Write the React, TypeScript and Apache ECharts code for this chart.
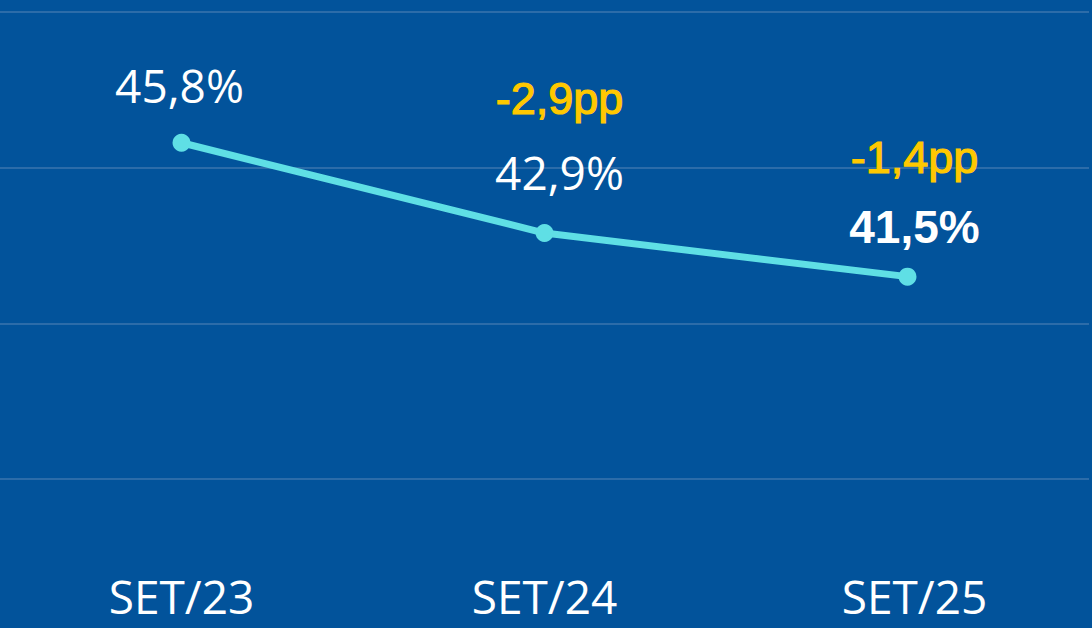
import React, { useEffect, useRef } from "react";
import * as echarts from "echarts";

const categories = ["SET/23", "SET/24", "SET/25"];
const values = [45.8, 42.9, 41.5];
const deltaLabels = ["", "-2,9pp", "-1,4pp"];
const yTicks = [35, 40, 45, 50];

const fmt = (v: number) => v.toFixed(1).replace(".", ",") + "%";

export default function App() {
  const ref = useRef<HTMLDivElement>(null);
  useEffect(() => {
    document.body.style.margin = "0";
    const chart = echarts.init(ref.current!, undefined, { renderer: "svg" });
    const last = values.length - 1;
    const labelOffsets: [number, number][] = [
      [-2, -58],
      [15, -96],
      [7, -85],
    ];
    const data = values.map((v, i) => {
      const d = deltaLabels[i];
      const vStyle = i === last ? "vb" : "v";
      const text = d ? `{d|${d}}\n{${vStyle}|${fmt(v)}}` : `{${vStyle}|${fmt(v)}}`;
      return {
        value: v,
        label: {
          show: true,
          position: "inside",
          offset: labelOffsets[i],
          formatter: () => text,
        },
      };
    });
    const axisFont = { color: "#ffffff", fontFamily: "Open Sans", fontSize: 46 };
    chart.setOption({
      animation: false,
      backgroundColor: "#02539b",
      grid: { left: 0, right: 3, top: 12, bottom: 149 },
      xAxis: {
        type: "category",
        data: categories,
        boundaryGap: true,
        axisLine: { show: false },
        axisTick: { show: false },
        axisLabel: {
          ...axisFont,
          margin: 117,
          verticalAlign: "middle",
          formatter: (val: string, idx: number) =>
            idx === categories.length - 1 ? `{r|${val}}` : `{n|${val}}`,
          rich: {
            n: { ...axisFont },
            r: { ...axisFont, padding: [0, 0, 0, 14] },
          },
        },
      },
      yAxis: {
        type: "value",
        min: yTicks[0],
        max: yTicks[yTicks.length - 1],
        interval: 5,
        axisLabel: { show: false },
        axisLine: { show: false },
        axisTick: { show: false },
        splitLine: { lineStyle: { color: "#3b74ae", width: 1.5 } },
      },
      series: [
        {
          type: "line",
          data,
          symbol: "circle",
          symbolSize: 18,
          lineStyle: { color: "#5fdfe5", width: 7 },
          itemStyle: { color: "#5fdfe5" },
          label: {
            show: true,
            align: "center",
            verticalAlign: "middle",
            rich: {
              d: {
                color: "#ffc800",
                fontFamily: "Liberation Sans",
                fontSize: 45,
                lineHeight: 70,
                align: "center",
                textBorderColor: "#ffc800",
                textBorderWidth: 1.2,
              },
              v: {
                color: "#ffffff",
                fontFamily: "Open Sans",
                fontSize: 46,
                lineHeight: 78,
                align: "center",
              },
              vb: {
                color: "#ffffff",
                fontFamily: "Liberation Sans",
                fontWeight: "bold",
                fontSize: 46,
                lineHeight: 68,
                align: "center",
              },
            },
          },
        },
      ],
    });
    return () => chart.dispose();
  }, []);
  return (
    <div
      ref={ref}
      style={{ position: "fixed", left: 0, top: 0, width: 1092, height: 628 }}
    />
  );
}
